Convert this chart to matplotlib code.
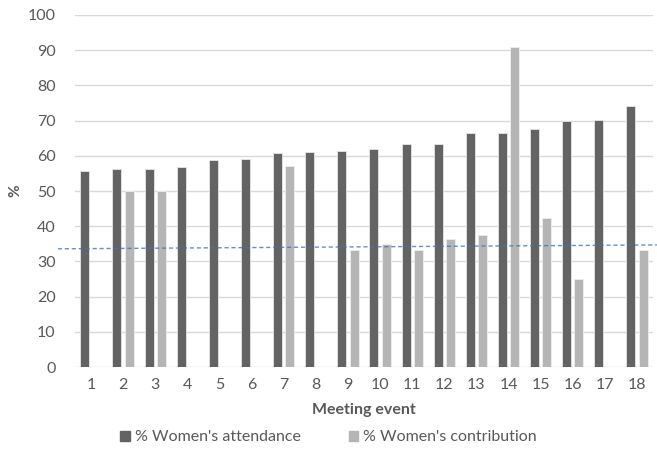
import numpy as np
import matplotlib.pyplot as plt
from matplotlib.patches import Patch

# ------------------------
# Data
events = list(range(1, 19))
attendance = [55.7, 56.2, 56.2, 56.7, 58.7, 59.0, 60.7, 61.2, 61.5,
              62.0, 63.3, 63.3, 66.6, 66.6, 67.6, 70.0, 70.2, 74.1]
contribution = [0, 50.0, 50.0, 0, 0, 0, 57.1, 0, 33.3,
                35.0, 33.3, 36.4, 37.5, 90.9, 42.3, 25.0, 0, 33.3]
trend_x = [-0.03, 18.62]
trend_y = [33.6, 34.7]

plt.rcParams['font.family'] = ['Lato', 'DejaVu Sans']
txt = '#595959'

fig = plt.figure(figsize=(6.57, 4.5), dpi=100)
ax = fig.add_axes([0.114, 0.184, 0.88, 0.783])

x = np.array(events)
w = 0.28
ax.bar(x - 0.19, attendance, width=w, color='#636363', edgecolor='#e6e6e6',
       linewidth=0.6, zorder=3)
ax.bar(x + 0.19, contribution, width=w, color='#b5b5b5', edgecolor='#eeeeee',
       linewidth=0.6, zorder=3)

# dashed trend line
ax.plot(trend_x, trend_y, linestyle=(0, (3, 2)), color='#4472c4', linewidth=1,
        alpha=0.8, clip_on=False, zorder=4)

ax.set_xlim(0.5, 18.5)
ax.set_ylim(0, 100)
ax.set_yticks(range(0, 101, 10))
ax.set_xticks(events)
ax.grid(axis='y', color='#d9d9d9', linewidth=1, zorder=0)
for s in ax.spines.values():
    s.set_visible(False)
ax.tick_params(length=0, colors=txt, labelsize=11.5)
ax.tick_params(axis='y', pad=14)
ax.tick_params(axis='x', pad=8)

ax.set_ylabel('%', color=txt, fontsize=11, fontweight='bold')
ax.yaxis.set_label_coords(-0.09, 0.5)
ax.set_xlabel('Meeting event', color=txt, fontsize=11.5, fontweight='bold', labelpad=8)

handles = [Patch(color='#636363', label="% Women's attendance"),
           Patch(color='#b5b5b5', label="% Women's contribution")]
leg = fig.legend(handles=handles, loc='center', bbox_to_anchor=(0.5, 0.028),
                 ncol=2, frameon=False, fontsize=11.5, handlelength=0.6,
                 handleheight=0.6, handletextpad=0.3, columnspacing=3)
for t in leg.get_texts():
    t.set_color(txt)

plt.savefig('out.png', dpi=100)
